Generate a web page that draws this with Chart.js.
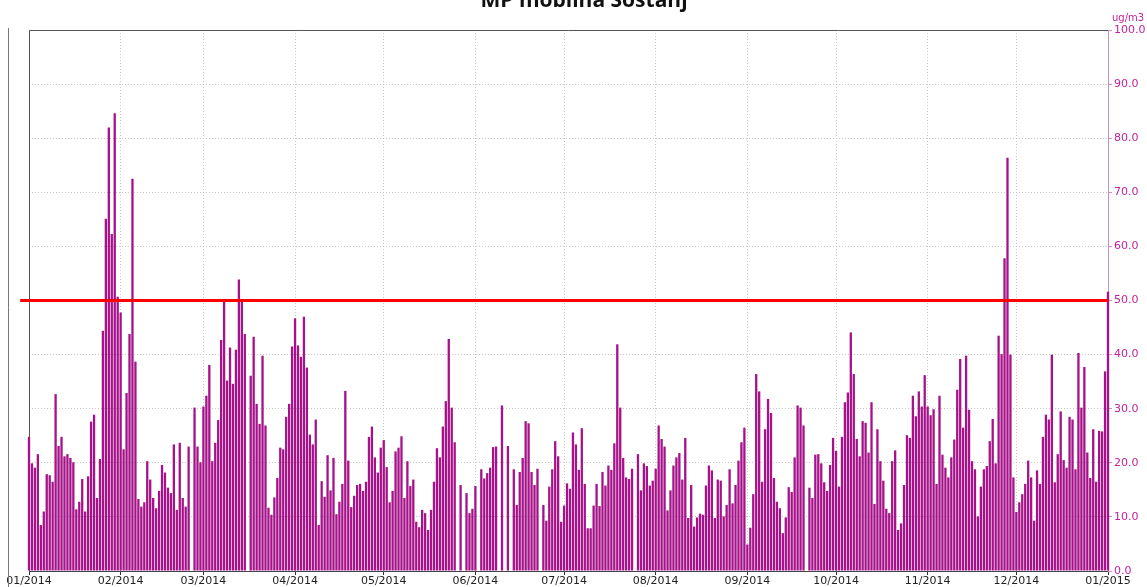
<!DOCTYPE html>
<html>
<head>
<meta charset="utf-8">
<script src="https://cdn.jsdelivr.net/npm/chart.js@4.4.1/dist/chart.umd.min.js"></script>
<style>
    html, body { margin: 0; padding: 0; background: #fff; overflow: hidden; }
    #wrap { position: relative; width: 1147px; height: 587px; }
</style>
</head>
<body>
<div id="wrap"><canvas id="pmChart" width="1147" height="587"></canvas></div>
<script>
// daily PM10, 01.01.2014 - 01.01.2015 (null = no measurement)
const dailyValues = [
    24.8, 19.9, 19.1, 21.6, 8.5, 11.0, 17.9, 17.7, 16.5, 32.7, 23.1, 24.8, 21.2, 21.6, 20.9, 20.1, 11.4,
    12.8, 17.0, 11.0, 17.5, 27.6, 28.9, 13.5, 20.7, 44.4, 65.1, 82.0, 62.3, 84.6, 50.7, 47.8, 22.5,
    32.9, 43.8, 72.5, 38.7, 13.3, 11.9, 12.7, 20.3, 16.9, 13.5, 11.6, 14.8, 19.6, 18.2, 15.4, 14.4, 23.4,
    11.3, 23.7, 13.5, 11.9, 23.0, null, 30.2, 23.0, 20.1, 30.4, 32.4, 38.1, 20.3, 23.7, 27.9, 42.7,
    49.7, 35.2, 41.3, 34.6, 40.9, 53.9, 49.8, 43.8, null, 36.1, 43.3, 30.9, 27.2, 39.8, 26.9, 11.7, 10.4,
    13.6, 17.2, 22.8, 22.5, 28.5, 30.9, 41.5, 46.7, 41.7, 39.6, 47.0, 37.6, 25.2, 23.4, 28.0, 8.5,
    16.6, 13.7, 21.4, 14.9, 20.9, 10.5, 12.8, 16.1, 33.3, 20.4, 11.8, 13.9, 15.9, 16.1, 14.8, 16.5, 24.8,
    26.7, 21.0, 18.2, 22.8, 24.2, 19.2, 12.7, 14.8, 22.1, 22.8, 24.9, 13.5, 20.3, 15.7, 16.9, 9.1,
    8.1, 11.3, 10.7, 7.6, 11.3, 16.5, 22.7, 21.0, 26.7, 31.4, 42.9, 30.2, 23.8, null, 15.9, null, 14.4,
    10.7, 11.5, 15.7, null, 18.8, 17.1, 18.1, 19.1, 22.9, 23.0, null, 30.6, null, 23.1, null, 18.8,
    12.2, 18.3, 20.9, 27.7, 27.3, 18.3, 15.9, 18.9, null, 12.2, 9.3, 15.6, 18.8, 24.0, 21.2, 9.1, 12.1,
    16.2, 15.2, 25.6, 23.4, 18.7, 26.4, 16.1, 7.9, 7.9, 12.1, 16.1, 12.0, 18.3, 15.8, 19.5, 18.7,
    23.6, 41.9, 30.2, 20.9, 17.3, 17.0, 18.9, null, 21.6, 14.9, 19.9, 19.4, 15.8, 16.7, 18.9, 26.9, 24.4,
    23.0, 11.2, 14.9, 19.5, 21.0, 21.8, 16.9, 24.6, 9.8, 15.9, 8.2, 9.9, 10.6, 10.4, 15.8, 19.5, 18.6,
    9.8, 16.9, 16.7, 10.1, 12.2, 18.8, 12.5, 15.9, 20.4, 23.8, 26.5, 4.9, 8.0, 14.2, 36.4, 33.2, 16.5,
    26.2, 31.8, 29.2, 17.2, 12.8, 11.6, 7.0, 9.9, 15.5, 14.6, 21.0, 30.6, 30.2, 26.9, null, 15.4,
    13.5, 21.5, 21.6, 19.9, 16.4, 14.8, 19.6, 24.6, 22.2, 15.6, 24.8, 31.2, 33.0, 44.1, 36.4, 24.4, 21.2,
    27.7, 27.4, 21.9, 31.2, 12.4, 26.2, 20.3, 16.7, 11.5, 10.7, 20.3, 22.3, 7.6, 8.8, 15.9, 25.1,
    24.6, 32.4, 28.6, 33.2, 30.4, 36.2, 30.4, 28.8, 29.9, 16.1, 32.4, 21.5, 19.1, 17.3, 21.0, 24.3, 33.5,
    39.2, 26.5, 39.8, 29.8, 20.3, 18.8, 10.1, 15.6, 18.8, 19.4, 24.0, 28.1, 19.9, 43.5, 40.1, 57.8,
    76.4, 40.0, 17.3, 10.9, 12.7, 14.2, 16.1, 20.4, 17.3, 9.3, 18.6, 16.1, 24.8, 28.9, 28.0, 40.0, 16.4,
    21.6, 29.5, 20.5, 19.1, 28.5, 28.0, 18.8, 40.3, 30.2, 37.7, 21.9, 17.2, 26.2, 16.5, 25.9, 25.8, 36.9, 51.6
]
const monthStartDay = [0, 31, 59, 90, 120, 151, 181, 212, 243, 273, 304, 334, 365]
const monthLabels = ['01/2014', '02/2014', '03/2014', '04/2014', '05/2014', '06/2014', '07/2014',
    '08/2014', '09/2014', '10/2014', '11/2014', '12/2014', '01/2015']
const limitValue = [50, 50]
const limitDays = [-3, 365]

const chartTitle = 'MP mobilna Šoštanj'
const unitLabel = 'ug/m3'
const magenta = '#c2229c'

Chart.defaults.font.family = '"DejaVu Sans", Verdana, sans-serif'
Chart.defaults.font.size = 11

const framePlugin = {
    id: 'frame',
    beforeDatasetsDraw(chart) {
        const ctx = chart.ctx
        const a = chart.chartArea
        ctx.save()
        ctx.lineWidth = 1
        ctx.strokeStyle = '#555'
        ctx.beginPath()
        ctx.moveTo(a.left + 0.5, a.bottom)
        ctx.lineTo(a.left + 0.5, a.top + 0.5)
        ctx.lineTo(a.right, a.top + 0.5)
        ctx.stroke()
        ctx.strokeStyle = '#777'
        ctx.beginPath()
        ctx.moveTo(8.5, a.top - 2)
        ctx.lineTo(8.5, chart.height)
        ctx.stroke()
        ctx.restore()
    },
    afterDraw(chart) {
        const ctx = chart.ctx
        ctx.save()
        ctx.fillStyle = '#111'
        ctx.font = 'bold 21px "Open Sans"'
        ctx.textAlign = 'center'
        ctx.textBaseline = 'alphabetic'
        ctx.fillText(chartTitle, 584, 7)
        ctx.fillStyle = magenta
        ctx.font = '10px "DejaVu Sans"'
        ctx.textAlign = 'left'
        ctx.fillText(unitLabel, 1112, 21)
        ctx.restore()
    }
}

new Chart(document.getElementById('pmChart').getContext('2d'), {
    type: 'bar',
    data: {
        datasets: [{
            type: 'line',
            data: limitDays.map((d, i) => ({ x: d, y: limitValue[i] })),
            borderColor: '#ff0000',
            borderWidth: 3,
            pointRadius: 0,
            clip: false,
            order: 0
        }, {
            type: 'bar',
            data: dailyValues.map((v, i) => ({ x: i, y: v })),
            backgroundColor: '#a6128a',
            borderWidth: 0,
            barPercentage: 0.78,
            categoryPercentage: 1,
            clip: { left: 3, top: 0, right: 3, bottom: 0 },
            order: 1
        }]
    },
    options: {
        responsive: false,
        animation: false,
        events: [],
        layout: { padding: { left: 29, top: 30, right: 0, bottom: 0 } },
        plugins: {
            legend: { display: false },
            tooltip: { enabled: false },
            title: { display: false }
        },
        scales: {
            x: {
                type: 'linear',
                min: 0,
                max: 365,
                offset: false,
                afterBuildTicks: (scale) => {
                    scale.ticks = monthStartDay.map(v => ({ value: v }))
                },
                afterFit: (scale) => { scale.height = 16 },
                ticks: {
                    autoSkip: false,
                    maxRotation: 0,
                    padding: 0,
                    color: '#222',
                    callback: (value) => monthLabels[monthStartDay.indexOf(value)]
                },
                grid: {
                    offset: false,
                    color: '#c8c8c8',
                    tickColor: '#333',
                    tickLength: 4
                },
                border: { display: true, color: '#444', dash: [1, 2] }
            },
            y: {
                position: 'right',
                min: 0,
                max: 100,
                afterFit: (scale) => { scale.width = 39 },
                ticks: {
                    stepSize: 10,
                    padding: 2,
                    color: magenta,
                    callback: (value) => value.toFixed(1)
                },
                grid: {
                    color: '#c8c8c8',
                    tickColor: '#d38ccb',
                    tickLength: 4
                },
                border: { display: true, color: '#d38ccb', dash: [1, 2] }
            }
        }
    },
    plugins: [framePlugin]
})
</script>
</body>
</html>
